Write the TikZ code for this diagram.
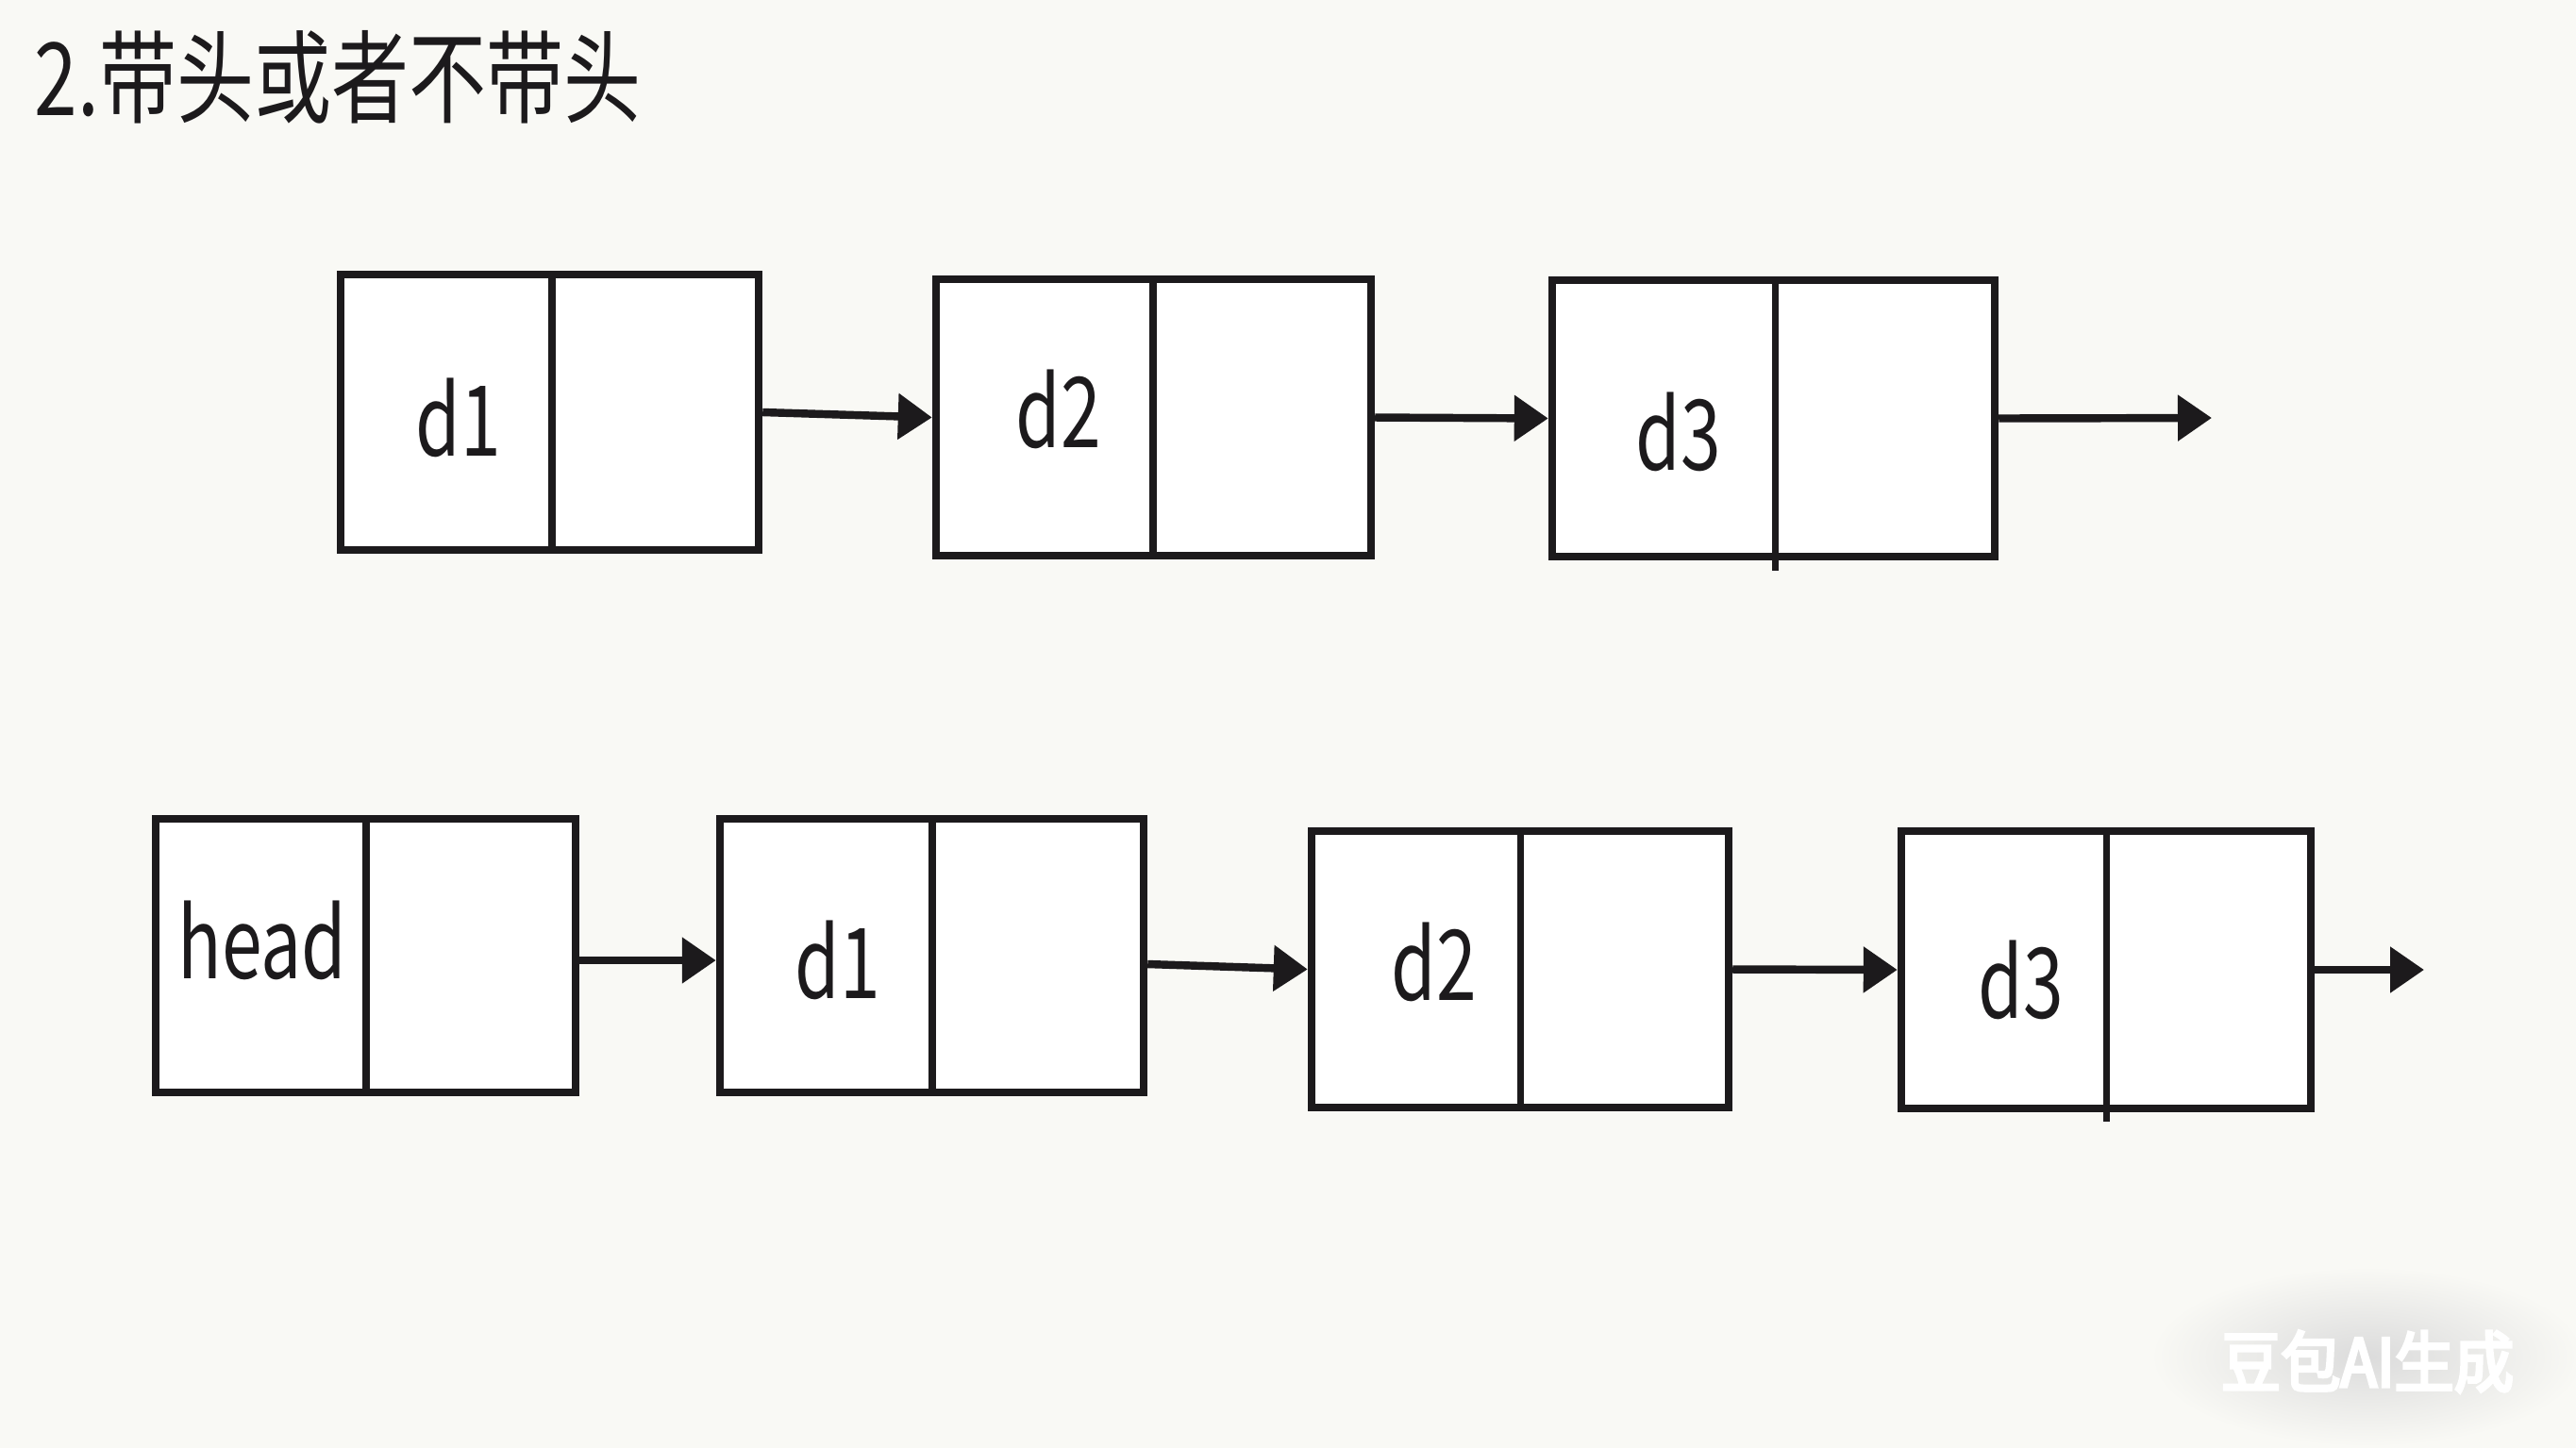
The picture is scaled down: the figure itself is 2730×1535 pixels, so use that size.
\documentclass[tikz,border=0pt]{standalone}
\usepackage{fontspec}
\setmainfont{Noto Sans CJK SC}[FakeStretch=0.74]
\newfontfamily\titlefont{Noto Sans CJK SC}[FakeStretch=0.765]
\newfontfamily\wmfont{Noto Sans CJK SC}[FakeBold=4.5,FakeStretch=0.9]
\usetikzlibrary{arrows.meta,fit}
\definecolor{bg}{RGB}{249,249,245}
\definecolor{ink}{RGB}{28,26,28}
\begin{document}
\begin{tikzpicture}[x=0.01cm,y=-0.01cm,
  listbox/.style={draw=ink,line width=2.4pt,fill=white,inner sep=0pt},
  divline/.style={draw=ink,line width=2pt},
  lbl/.style={anchor=base,inner sep=0pt,font=\fontsize{29.5}{30}\selectfont,text=ink},
  link/.style={draw=ink,line width=2.4pt,-{Triangle[length=0.36cm,width=0.47cm]}}]
\fill[bg] (0,0) rectangle (2730,1535);
\useasboundingbox (0,0) rectangle (2730,1535);

% title
\node[anchor=base west,inner sep=0pt,font=\titlefont\fontsize{30.5}{31}\selectfont,text=ink] (title) at (36,122) {2.带头或者不带头};

% row 1 : without head
\node[listbox,fit={(361,291) (804,583)}] (A) {};
\node[listbox,fit={(992,296) (1453,589)}] (B) {};
\node[listbox,fit={(1645,297) (2114,590)}] (C) {};
\draw[divline] (585,291) -- (585,583);
\draw[divline] (1222,296) -- (1222,589);
\draw[divline] (1881,297) -- (1881,605);
\node[lbl] (A1) at (486,483) {d1};
\node[lbl] (B1) at (1122,474) {d2};
\node[lbl] (C1) at (1779,498) {d3};
\coordinate (Cend) at (2344,443);
\draw[link] (A.east) -- (B.west);
\draw[link] (B.east) -- (C.west);
\draw[link] (C.east) -- (Cend);

% row 2 : with head
\node[listbox,fit={(165,868) (610,1158)}] (H) {};
\node[listbox,fit={(763,868) (1212,1158)}] (E1) {};
\node[listbox,fit={(1390,881) (1832,1174)}] (E2) {};
\node[listbox,fit={(2015,881) (2449,1175)}] (E3) {};
\draw[divline] (388,868) -- (388,1158);
\draw[divline] (988,868) -- (988,1158);
\draw[divline] (1611,881) -- (1611,1174);
\draw[divline] (2232,881) -- (2232,1189);
\node[lbl] (H1) at (278,1037) {head};
\node[lbl] (E1t) at (888,1058) {d1};
\node[lbl] (E2t) at (1520,1060) {d2};
\node[lbl] (E3t) at (2142,1079) {d3};
\coordinate (Eend) at (2569,1028);
\draw[link] ([yshift=-0.05cm]H.east) -- ([yshift=-0.05cm]E1.west);
\draw[link] ([yshift=-0.09cm]E1.east) -- (E2.west);
\draw[link] (E2.east) -- (E3.west);
\draw[link] (E3.east) -- (Eend);

% watermark
\shade[inner color=black!14,outer color=bg] (2509,1438) ellipse [x radius=2.3cm,y radius=0.95cm];
\node[anchor=base,inner sep=0pt,font=\wmfont\fontsize{20}{20}\selectfont,text=white] (wm) at (2509,1470) {豆包AI生成};
\end{tikzpicture}
\end{document}
